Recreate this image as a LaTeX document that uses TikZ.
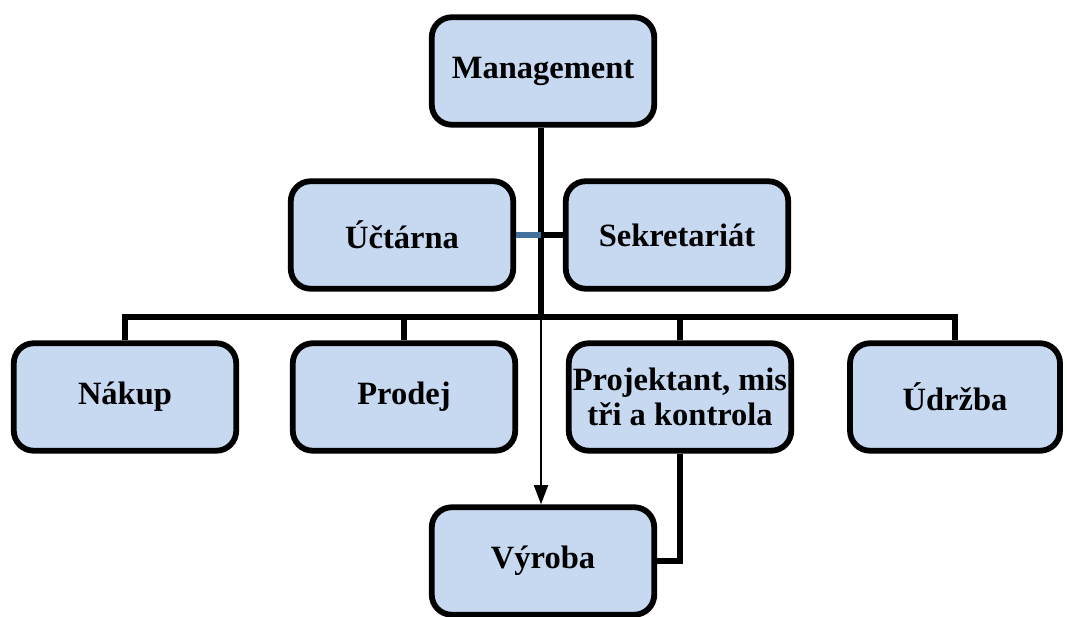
\documentclass[tikz,border=0pt]{standalone}
\usepackage{fontspec}
\setmainfont{Liberation Serif}
\usetikzlibrary{arrows.meta}
\definecolor{BoxFill}{HTML}{C6D9F1}
\definecolor{SteelLink}{HTML}{41719C}

\begin{document}
\begin{tikzpicture}[x=0.02cm, y=-0.02cm,
  unit/.style={draw=black, line width=3.3pt, fill=BoxFill, rounded corners=0.4cm,
    minimum width=4.45cm, minimum height=2.15cm, align=center, inner sep=2pt,
    font=\fontsize{18.5}{20}\selectfont\bfseries},
  link/.style={line width=3.1pt, black},
  flow/.style={line width=1.2pt, -{Triangle[length=11pt, width=8pt]}}]
  \useasboundingbox (0,0) rectangle (1067,617);

  % Top level
  \node[unit] (mgmt) at (543,71) {Management};

  % Staff units
  \node[unit] (uctarna) at (402,235) {Účtárna};
  \node[unit] (sekretariat) at (677,235) {Sekretariát};

  % Departments
  \node[unit] (nakup) at (125,397) {Nákup};
  \node[unit] (prodej) at (404,397) {Prodej};
  \node[unit] (projektant) at (680,397) {Projektant, mis\\tři a kontrola};
  \node[unit, minimum width=4.2cm] (udrzba) at (955,397) {Údržba};

  % Production
  \node[unit] (vyroba) at (543,561) {Výroba};

  % Tree lines
  \coordinate (bar) at (541,317);
  \draw[link] (mgmt.south -| bar) -- (bar);
  \draw[link] (nakup.north) |- (bar) -| (udrzba.north);
  \draw[link] (prodej.north) -- (prodej.north |- bar);
  \draw[link] (projektant.north) -- (projektant.north |- bar);
  \draw[link, SteelLink] (uctarna.east) -- (uctarna.east -| bar);
  \draw[link] (sekretariat.west) -- (sekretariat.west -| bar);

  % Flow to production
  \draw[flow] (bar) -- (vyroba.north -| bar);
  \draw[link] (projektant.south) |- (vyroba.east);
\end{tikzpicture}
\end{document}
